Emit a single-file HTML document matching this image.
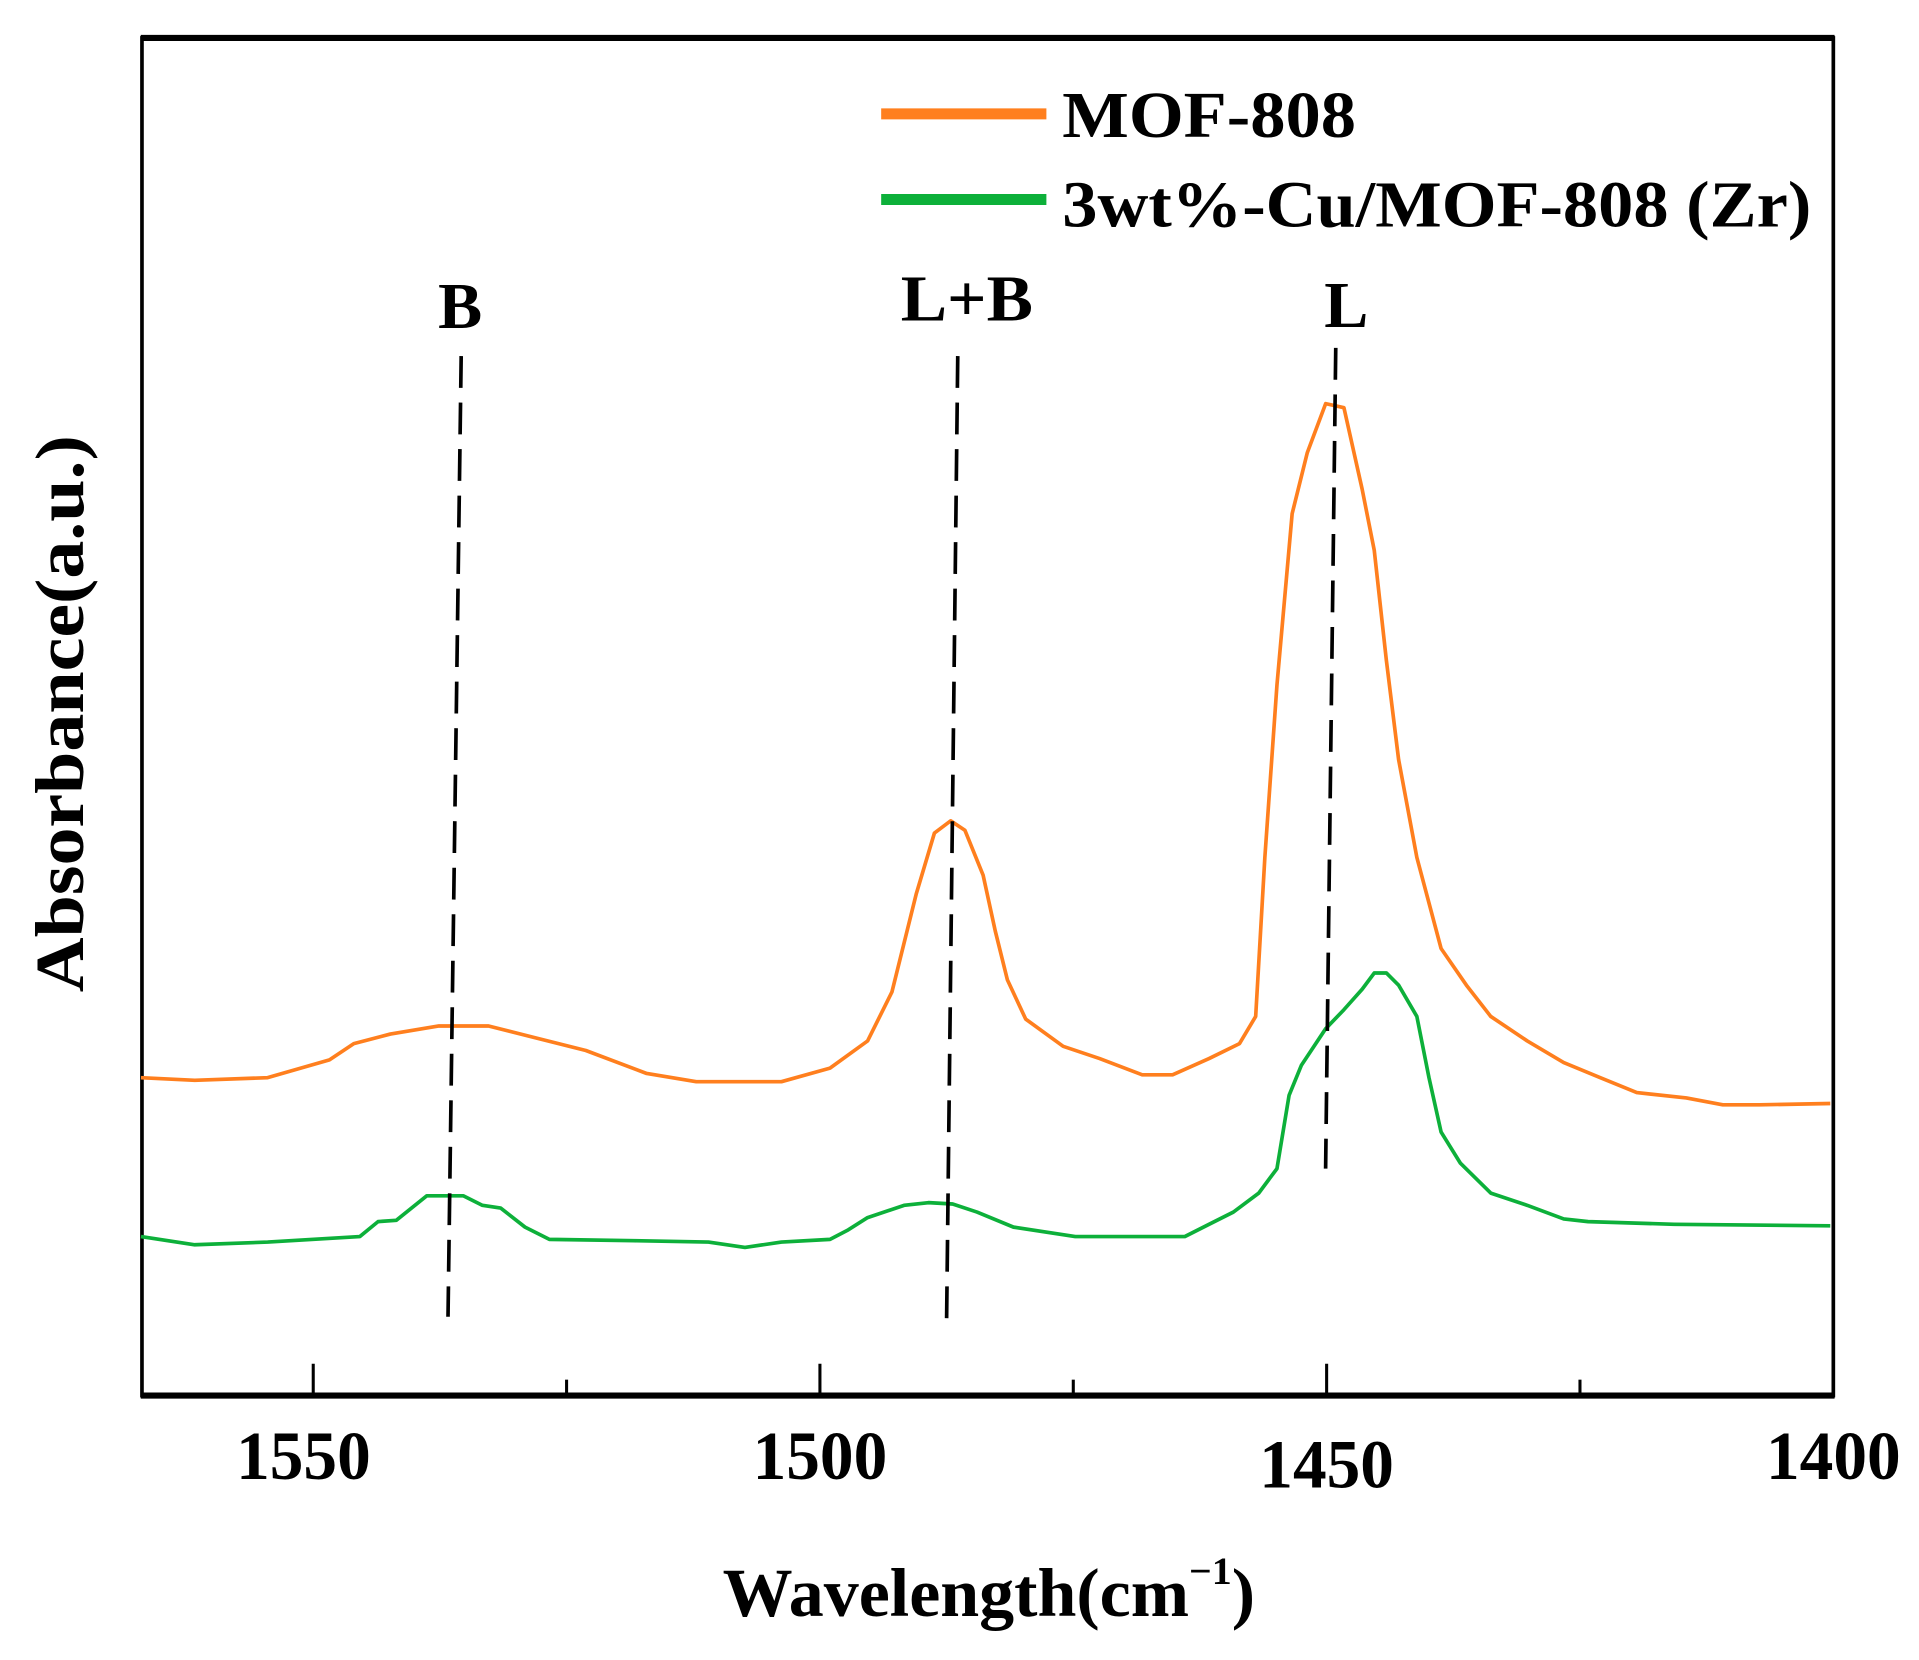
<!DOCTYPE html>
<html><head><meta charset="utf-8"><style>
html,body{margin:0;padding:0;background:#fff;}
svg{display:block;}
text{font-family:"Liberation Serif",serif;font-weight:bold;fill:#000;}
</style></head><body>
<svg id="chart" width="1919" height="1660" viewBox="0 0 1568 1356" preserveAspectRatio="none" xmlns="http://www.w3.org/2000/svg">
<rect x="116" y="31" width="1382" height="1109" fill="none" stroke="#000" stroke-width="3"/>
<line x1="115" y1="31" x2="1499" y2="31" stroke="#000" stroke-width="5"/>
<line x1="115" y1="1140" x2="1499" y2="1140" stroke="#000" stroke-width="5"/>
<g id="xticks"></g>
<g id="series"></g>
<g id="markers"></g>
<text x="808" y="1320" font-size="56" text-anchor="middle" textLength="435" lengthAdjust="spacingAndGlyphs">Wavelength(cm<tspan font-size="32" dy="-26">−1</tspan><tspan dy="26">)</tspan></text>
<text transform="translate(68,583) rotate(-90)" font-size="56" text-anchor="middle" textLength="455" lengthAdjust="spacingAndGlyphs">Absorbance(a.u.)</text>
<g>
<line x1="720" y1="93" x2="855" y2="93" stroke="#ff7f1e" stroke-width="9"/>
<text x="868" y="112" font-size="54" textLength="240" lengthAdjust="spacingAndGlyphs">MOF-808</text>
<line x1="720" y1="163" x2="855" y2="163" stroke="#0db03a" stroke-width="9"/>
<text x="868" y="185" font-size="54" textLength="612" lengthAdjust="spacingAndGlyphs">3wt%-Cu/MOF-808 (Zr)</text>
</g>
<text x="376" y="268" font-size="54" text-anchor="middle">B</text>
<text x="790" y="262" font-size="54" text-anchor="middle" textLength="108" lengthAdjust="spacingAndGlyphs">L+B</text>
<text x="1100" y="267" font-size="54" text-anchor="middle">L</text>
</svg>
<script>
const xTicksMajor=[1550,1500,1450,1400];
const xTickLabels=["1550","1500","1450","1400"];
const xTicksMinor=[1525,1475,1425];
const mofWave=[1567,1561.7,1554.5,1548.4,1546,1542.4,1537.6,1532.7,1527.9,1523.1,1517.1,1512.2,1503.8,1499,1495.3,1492.9,1490.5,1488.7,1487.1,1485.7,1483.9,1482.7,1481.5,1479.7,1476,1472.4,1468.2,1465.2,1461.6,1458.6,1457,1456.1,1454.9,1453.4,1451.9,1450.1,1448.3,1446.5,1445.3,1444.1,1442.9,1441.1,1438.7,1436.2,1433.8,1430.2,1426.6,1423,1419.4,1414.5,1410.9,1407.3,1400.3];
const mofAbs=[.234,.232,.234,.247,.259,.266,.272,.272,.263,.254,.237,.231,.231,.241,.261,.297,.369,.414,.423,.416,.383,.342,.306,.277,.257,.248,.236,.236,.248,.259,.279,.396,.523,.649,.694,.730,.727,.667,.622,.541,.468,.396,.329,.302,.279,.261,.245,.234,.223,.219,.214,.214,.215];
const cuWave=[1567,1561.7,1554.5,1545.4,1543.6,1541.8,1538.8,1535.2,1533.3,1531.5,1529.1,1526.7,1518.3,1511,1507.4,1503.8,1499,1497.2,1495.3,1491.7,1489.3,1486.9,1484.5,1480.9,1474.8,1464,1461.6,1459.2,1456.7,1454.9,1453.7,1452.5,1450.1,1448.3,1446.5,1445.3,1444.1,1442.9,1441.1,1439.9,1438.7,1436.8,1433.8,1430.2,1426.6,1424.2,1415.7,1400.3];
const cuAbs=[.117,.111,.113,.117,.128,.129,.147,.147,.140,.138,.124,.115,.114,.113,.109,.113,.115,.122,.131,.140,.142,.141,.135,.124,.117,.117,.126,.135,.149,.167,.221,.243,.270,.284,.299,.311,.311,.302,.279,.234,.194,.171,.149,.140,.130,.128,.126,.125];
const markerTopWave=[1535.4,1486.4,1449.1];
const markerBottomWave=[1536.7,1487.5,1450.1];
const markerTop=[.765,.765,.771];
const markerBottom=[.058,.056,.167];

const X0=116,X1=1498,Y0=1140,Y1=30,WMAX=1566.9,WMIN=1400;
function xs(w){return X0+(WMAX-w)/(WMAX-WMIN)*(X1-X0);}
function ys(v){return Y0-v*(Y0-Y1);}
const NS="http://www.w3.org/2000/svg";
const tg=document.getElementById('xticks');
xTicksMajor.forEach((t,i)=>{
  const x=xs(t);
  if(t>WMIN){
    const l=document.createElementNS(NS,'line');
    
    
    l.setAttribute('x1',x);l.setAttribute('x2',x);l.setAttribute('y1',1140);l.setAttribute('y2',1114);
    l.setAttribute('stroke','#000');l.setAttribute('stroke-width','2.5');tg.appendChild(l);
  }
  const tx=document.createElementNS(NS,'text');
  
  
  tx.setAttribute('x',x-(t===1550?8:0));tx.setAttribute('y',t===1450?1215:1208);
  tx.setAttribute('font-size','56');tx.setAttribute('text-anchor','middle');
  tx.setAttribute('textLength','110');tx.setAttribute('lengthAdjust','spacingAndGlyphs');
  tx.textContent=xTickLabels[i];tg.appendChild(tx);
});
xTicksMinor.forEach(t=>{
  const x=xs(t);
  const l=document.createElementNS(NS,'line');
  
  
  l.setAttribute('x1',x);l.setAttribute('x2',x);l.setAttribute('y1',1140);l.setAttribute('y2',1127);
  l.setAttribute('stroke','#000');l.setAttribute('stroke-width','2.5');tg.appendChild(l);
});
const sg=document.getElementById('series');
function drawSeries(w,a,color,name){
  const p=document.createElementNS(NS,'path');
  
  
  p.setAttribute('d',w.map((v,i)=>(i?'L':'M')+xs(v).toFixed(1)+' '+ys(a[i]).toFixed(1)).join(' '));
  p.setAttribute('fill','none');p.setAttribute('stroke',color);p.setAttribute('stroke-width','3');
  p.setAttribute('stroke-linejoin','round');sg.appendChild(p);
}
drawSeries(mofWave,mofAbs,'#ff7f1e','series-mof808');
drawSeries(cuWave,cuAbs,'#0db03a','series-cu-mof808');
const mg=document.getElementById('markers');
markerTopWave.forEach((w,i)=>{
  const l=document.createElementNS(NS,'line');
  
  
  l.setAttribute('x1',xs(w));l.setAttribute('y1',ys(markerTop[i]));
  l.setAttribute('x2',xs(markerBottomWave[i]));l.setAttribute('y2',ys(markerBottom[i]));
  l.setAttribute('stroke','#000');l.setAttribute('stroke-width','3');l.setAttribute('stroke-dasharray','26 12');
  mg.appendChild(l);
});
</script>
</body></html>
